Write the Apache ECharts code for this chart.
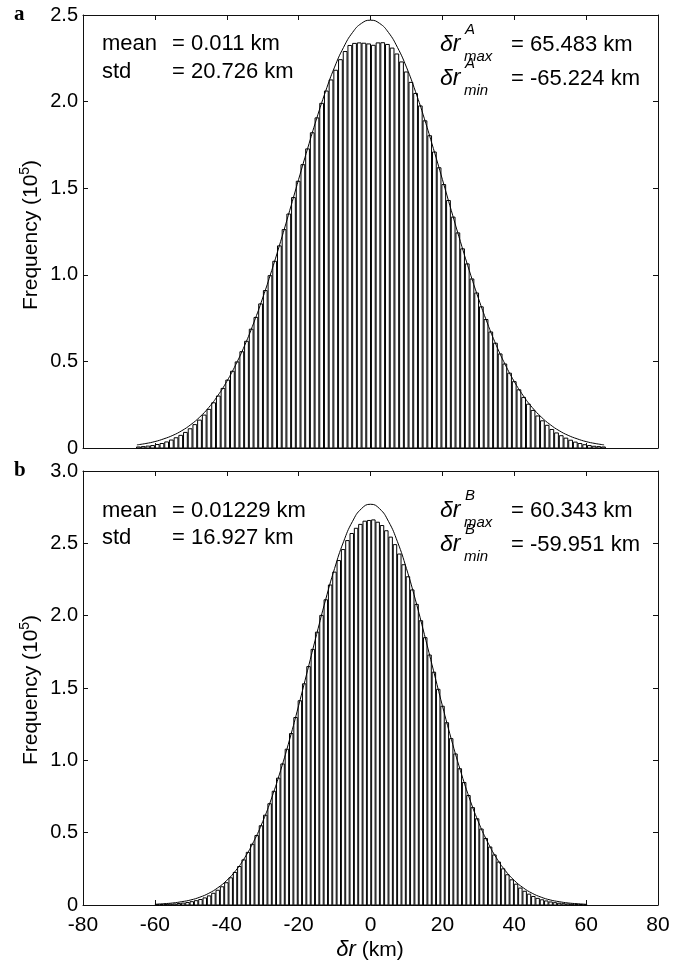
<!DOCTYPE html>
<html>
<head>
<meta charset="utf-8">
<script src="https://cdn.jsdelivr.net/npm/echarts@6/dist/echarts.min.js"></script>
<style>
  html, body { margin: 0; background: #fff; }
  #chart { width: 673px; height: 965px; }
</style>
</head>
<body>
<div id="chart"></div>
<script>
// Histogram ranges (km), 100 bins each, taken from the annotations
const rangeA = [-65.224, 65.483];
const rangeB = [-59.951, 60.343];

// Bar heights (10^5), left to right
const barsA = [
  0.006, 0.008, 0.011, 0.014, 0.020, 0.026, 0.035, 0.046, 0.059, 0.073,
  0.090, 0.111, 0.135, 0.161, 0.190, 0.223, 0.261, 0.300, 0.344, 0.392,
  0.443, 0.497, 0.556, 0.616, 0.686, 0.754, 0.832, 0.909, 0.995, 1.078,
  1.167, 1.261, 1.351, 1.446, 1.540, 1.636, 1.727, 1.820, 1.906, 1.990,
  2.061, 2.125, 2.181, 2.242, 2.289, 2.324, 2.336, 2.339, 2.337, 2.333,
  2.325, 2.339, 2.340, 2.330, 2.309, 2.275, 2.229, 2.171, 2.111, 2.047,
  1.975, 1.889, 1.803, 1.709, 1.618, 1.521, 1.429, 1.333, 1.242, 1.150,
  1.063, 0.976, 0.895, 0.815, 0.742, 0.670, 0.605, 0.543, 0.485, 0.432,
  0.383, 0.336, 0.292, 0.253, 0.217, 0.185, 0.157, 0.131, 0.107, 0.087,
  0.071, 0.057, 0.045, 0.034, 0.026, 0.019, 0.014, 0.010, 0.008, 0.006
];
const barsB = [
  0.002, 0.003, 0.004, 0.006, 0.007, 0.010, 0.013, 0.017, 0.023, 0.030,
  0.038, 0.049, 0.063, 0.081, 0.102, 0.126, 0.154, 0.188, 0.225, 0.266,
  0.312, 0.364, 0.420, 0.480, 0.548, 0.621, 0.700, 0.786, 0.877, 0.975,
  1.077, 1.185, 1.296, 1.412, 1.529, 1.648, 1.767, 1.886, 2.002, 2.110,
  2.212, 2.301, 2.381, 2.457, 2.519, 2.568, 2.604, 2.631, 2.653, 2.658,
  2.662, 2.646, 2.623, 2.587, 2.543, 2.491, 2.426, 2.352, 2.269, 2.178,
  2.078, 1.965, 1.848, 1.728, 1.609, 1.491, 1.374, 1.260, 1.150, 1.044,
  0.942, 0.847, 0.757, 0.673, 0.596, 0.525, 0.460, 0.401, 0.346, 0.297,
  0.250, 0.209, 0.174, 0.144, 0.117, 0.095, 0.075, 0.059, 0.046, 0.036,
  0.028, 0.021, 0.016, 0.012, 0.009, 0.007, 0.005, 0.004, 0.003, 0.002
];

// Fitted normal curves, read at 2.5 km steps
const curveAX = [
  -65, -62.5, -60, -57.5, -55, -52.5, -50, -47.5, -45, -42.5, -40, -37.5, -35, -32.5,
  -30, -27.5, -25, -22.5, -20, -17.5, -15, -12.5, -10, -7.5, -5, -2.5, 0,
  2.5, 5, 7.5, 10, 12.5, 15, 17.5, 20, 22.5, 25, 27.5, 30, 32.5, 35, 37.5, 40,
  42.5, 45, 47.5, 50, 52.5, 55, 57.5, 60, 62.5, 65
];
const curveAY = [
  0.018, 0.026, 0.037, 0.053, 0.073, 0.100, 0.135, 0.179, 0.234, 0.302, 0.384, 0.481, 0.593, 0.722,
  0.866, 1.024, 1.193, 1.370, 1.551, 1.729, 1.901, 2.059, 2.199, 2.313, 2.399, 2.452, 2.470,
  2.452, 2.399, 2.313, 2.199, 2.059, 1.901, 1.729, 1.551, 1.370, 1.193, 1.024, 0.866, 0.722, 0.593, 0.481, 0.384,
  0.302, 0.234, 0.179, 0.135, 0.100, 0.073, 0.053, 0.037, 0.026, 0.018
];
const curveBX = [
  -60, -57.5, -55, -52.5, -50, -47.5, -45, -42.5, -40, -37.5, -35, -32.5,
  -30, -27.5, -25, -22.5, -20, -17.5, -15, -12.5, -10, -7.5, -5, -2.5, 0,
  2.5, 5, 7.5, 10, 12.5, 15, 17.5, 20, 22.5, 25, 27.5, 30,
  32.5, 35, 37.5, 40, 42.5, 45, 47.5, 50, 52.5, 55, 57.5, 60
];
const curveBY = [
  0.005, 0.009, 0.014, 0.023, 0.035, 0.054, 0.081, 0.119, 0.170, 0.238, 0.327, 0.439,
  0.576, 0.740, 0.931, 1.145, 1.378, 1.623, 1.870, 2.109, 2.326, 2.511, 2.652, 2.740, 2.770,
  2.740, 2.652, 2.511, 2.326, 2.109, 1.870, 1.623, 1.378, 1.145, 0.931, 0.740, 0.576,
  0.439, 0.327, 0.238, 0.170, 0.119, 0.081, 0.054, 0.035, 0.023, 0.014, 0.009, 0.005
];

const xTicks = [-80, 80, 20];       // min, max, step
const yTicksA = [0, 2.5, 0.5];
const yTicksB = [0, 3.0, 0.5];

const FONT = '"Liberation Sans", Arial, sans-serif';
const SERIF = '"Liberation Serif", "Times New Roman", serif';

function binData(bars, range) {
  const w = (range[1] - range[0]) / bars.length;
  return bars.map((v, i) => [range[0] + (i + 0.5) * w, v, w]);
}

function zip(xs, ys) {
  return xs.map((x, i) => [x, ys[i]]);
}

// white bars with black edges, 80% of the bin width
function renderBar(params, api) {
  const c = api.value(0);
  const v = api.value(1);
  const w = api.value(2) * 0.8;
  const p0 = api.coord([c - w / 2, v]);
  const p1 = api.coord([c + w / 2, 0]);
  return {
    type: "rect",
    shape: { x: p0[0], y: p0[1], width: p1[0] - p0[0], height: p1[1] - p0[1] },
    style: { fill: "#fff", stroke: "#000", lineWidth: 1 },
  };
}

const tickStyle = { show: true, inside: true, length: 5, lineStyle: { color: "#111" } };
const lineStyle = { show: true, onZero: false, lineStyle: { color: "#111", width: 1 } };
const yFmt = (v) => (v === 0 ? "0" : v.toFixed(1));

function xAxis(gridIndex, position, labels) {
  return {
    type: "value", gridIndex, position,
    min: xTicks[0], max: xTicks[1], interval: xTicks[2],
    axisLine: lineStyle, axisTick: tickStyle, splitLine: { show: false },
    axisLabel: { show: labels, color: "#000", fontSize: 21, fontFamily: FONT, margin: 10 },
  };
}
function yAxis(gridIndex, position, ticks, labels) {
  return {
    type: "value", gridIndex, position,
    min: ticks[0], max: ticks[1], interval: ticks[2],
    axisLine: lineStyle, axisTick: tickStyle, splitLine: { show: false },
    axisLabel: { show: labels, color: "#000", fontSize: 20, fontFamily: FONT, margin: 5, formatter: yFmt },
  };
}

function t(x, y, text, size, extra) {
  return {
    type: "text", x, y, z: 100,
    style: Object.assign({
      text, fontSize: size, fontFamily: FONT, fill: "#000",
      align: "left", verticalAlign: "middle",
    }, extra || {}),
  };
}

// δr^X_max / δr^X_min annotation
function deltaLine(x, y, letter, sub, rest) {
  return [
    t(x, y, "δr", 23, { fontStyle: "italic" }),
    t(x + 25, y - 15, letter, 15, { fontStyle: "italic" }),
    t(x + 24, y + 12, sub, 15, { fontStyle: "italic" }),
    t(x + 71, y, rest, 22),
  ];
}

function freqLabel(y) {
  return {
    type: "text", x: 31, y, rotation: Math.PI / 2, z: 100,
    style: {
      text: "{n|Frequency (10}{s|5}{n|)}",
      align: "center", verticalAlign: "middle",
      rich: {
        n: { fontSize: 21, fontFamily: FONT, fill: "#000", lineHeight: 26 },
        s: { fontSize: 14, fontFamily: FONT, fill: "#000", verticalAlign: "top", lineHeight: 14 },
      },
    },
  };
}

const graphic = [
  t(14, 15, "a", 21, { fontFamily: SERIF, fontWeight: "bold" }),
  t(14, 471, "b", 21, { fontFamily: SERIF, fontWeight: "bold" }),
  freqLabel(235),
  freqLabel(690),
  t(102, 44, "mean", 22),
  t(172, 44, "= 0.011 km", 22),
  t(102, 72, "std", 22),
  t(172, 72, "= 20.726 km", 22),
  ...deltaLine(440, 45, "A", "max", "= 65.483 km"),
  ...deltaLine(440, 79, "A", "min", "= -65.224 km"),
  t(102, 511, "mean", 22),
  t(172, 511, "= 0.01229 km", 22),
  t(102, 538, "std", 22),
  t(172, 538, "= 16.927 km", 22),
  ...deltaLine(440, 511, "B", "max", "= 60.343 km"),
  ...deltaLine(440, 545, "B", "min", "= -59.951 km"),
  {
    type: "text", x: 370, y: 950, z: 100,
    style: {
      text: "{i|δr} (km)", fontSize: 21, fontFamily: FONT, fill: "#000",
      align: "center", verticalAlign: "middle",
      rich: { i: { fontSize: 22, fontFamily: FONT, fontStyle: "italic", fill: "#000" } },
    },
  },
];

const chart = echarts.init(document.getElementById("chart"), null, { renderer: "canvas" });

chart.setOption({
  animation: false,
  backgroundColor: "#fff",
  grid: [
    { left: 83, top: 15, width: 575, height: 433 },
    { left: 83, top: 471, width: 575, height: 434 },
  ],
  xAxis: [
    xAxis(0, "bottom", false),
    xAxis(0, "top", false),
    xAxis(1, "bottom", true),
    xAxis(1, "top", false),
  ],
  yAxis: [
    yAxis(0, "left", yTicksA, true),
    yAxis(0, "right", yTicksA, false),
    yAxis(1, "left", yTicksB, true),
    yAxis(1, "right", yTicksB, false),
  ],
  series: [
    {
      type: "custom", xAxisIndex: 0, yAxisIndex: 0,
      renderItem: renderBar, data: binData(barsA, rangeA), z: 2,
    },
    {
      type: "line", xAxisIndex: 0, yAxisIndex: 0, data: zip(curveAX, curveAY),
      smooth: true, showSymbol: false, z: 3,
      lineStyle: { color: "#000", width: 1 },
    },
    {
      type: "custom", xAxisIndex: 2, yAxisIndex: 2,
      renderItem: renderBar, data: binData(barsB, rangeB), z: 2,
    },
    {
      type: "line", xAxisIndex: 2, yAxisIndex: 2, data: zip(curveBX, curveBY),
      smooth: true, showSymbol: false, z: 3,
      lineStyle: { color: "#000", width: 1 },
    },
  ],
  graphic,
});
</script>
</body>
</html>
